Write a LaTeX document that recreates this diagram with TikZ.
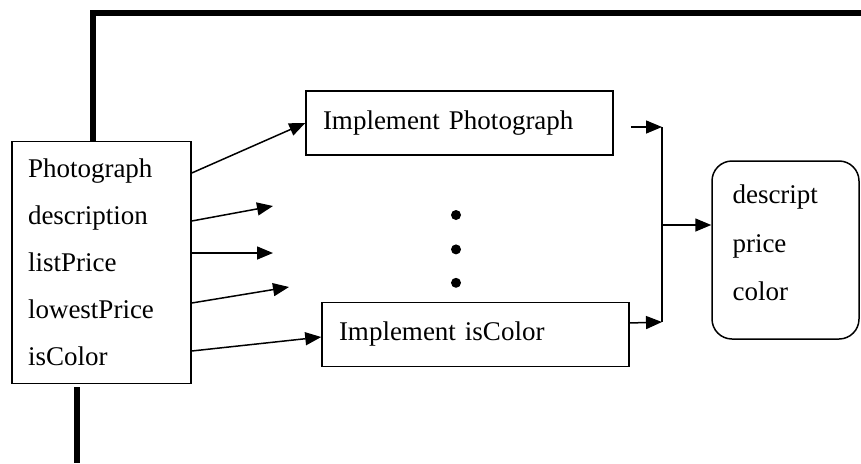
\documentclass[tikz,border=0pt]{standalone}
\usepackage{fontspec}
\setmainfont{Liberation Serif}
\usetikzlibrary{arrows.meta,positioning}

\begin{document}
\begin{tikzpicture}[
    x=1pt, y=-1pt,
    fieldbox/.style={
        rectangle,
        draw=black,
        line width=1.5pt,
        text width=147pt,
        minimum height=242pt,
        inner xsep=16pt,
        align=left,
        font=\fontsize{27}{47}\selectfont
    },
    implbox/.style={
        rectangle,
        draw=black,
        line width=1.5pt,
        text width=273pt,
        minimum height=64pt,
        inner xsep=17pt,
        align=left,
        font=\fontsize{27}{32}\selectfont
    },
    resultbox/.style={
        rectangle,
        rounded corners=20pt,
        draw=black,
        line width=1.5pt,
        minimum width=147pt,
        minimum height=178pt
    },
    resulttext/.style={
        text width=105pt,
        align=left,
        inner sep=0pt,
        font=\fontsize{27}{48.5}\selectfont
    },
    dot/.style={circle, fill=black, inner sep=0pt, minimum size=10pt},
    arr/.style={-{Triangle[length=16pt,width=13pt]}, line width=1.5pt},
    link/.style={line width=1.5pt},
    bus/.style={line width=6pt, line join=miter},
]
\useasboundingbox (0,0) rectangle (861,463);

% nodes
\node[fieldbox] (fields) at (101.5,262.5)
    {Photograph\\description\\listPrice\\lowestPrice\\isColor};

\node[implbox] (implPhoto) at (459.5,123) {Implement Photograph};

\node[implbox] (implColor) at (475.5,334.5) {Implement isColor};

\node[resultbox] (result) at (785.5,250) {};
\node[resulttext] (resultText) at ([xshift=-0.5pt,yshift=7pt]result.center)
    {descript\\price\\color};

\node[dot] (dotA) at (456,215) {};
\node[dot, below=24pt of dotA] (dotB) {};
\node[dot, below=23pt of dotB] (dotC) {};

% free ends
\coordinate (descEnd) at (273,206);
\coordinate (listEnd) at (273,253);
\coordinate (lowEnd) at (289,287);
\coordinate (joinTop) at (662,127);
\coordinate (joinMid) at (662,225);
\coordinate (joinBot) at (662,322);
\coordinate (busCorner) at (93,13);
\coordinate (busRight) at (861,13);
\coordinate (busLow) at (77,387);
\coordinate (busDown) at (77,463);

% arrows
\draw[arr] ([yshift=89.5pt]fields.east) -- (implPhoto.west);
\draw[arr] ([yshift=41.5pt]fields.east) -- (descEnd);
\draw[arr] ([yshift=9.5pt]fields.east) -- (listEnd);
\draw[arr] ([yshift=-40.5pt]fields.east) -- (lowEnd);
\draw[arr] ([yshift=-88.5pt]fields.east) -- ([yshift=-2.5pt]implColor.west);

\draw[arr] ([xshift=17pt,yshift=-4pt]implPhoto.east) -- (joinTop);
\draw[arr] ([yshift=11.5pt]implColor.east) -- (joinBot);
\draw[link] (joinTop) -- (joinBot);
\draw[arr] (joinMid) -- ([yshift=25pt]result.west);

% thick outer lines
\draw[bus] (fields.north -| busCorner) -- (busCorner) -- (busRight);
\draw[bus] (busLow) -- (busDown);

\end{tikzpicture}
\end{document}
